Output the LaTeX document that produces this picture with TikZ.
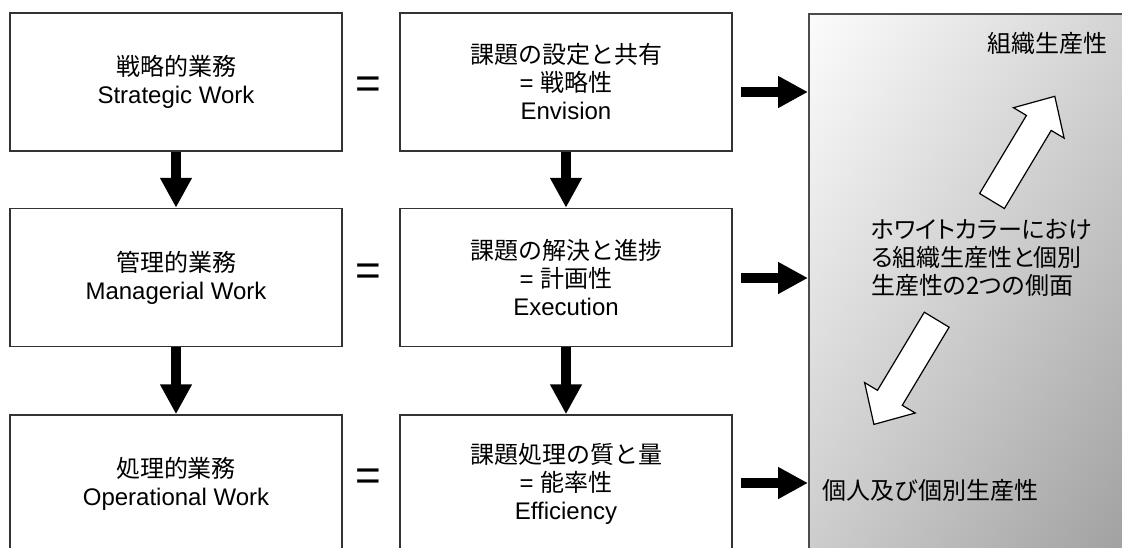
\documentclass[tikz,border=0pt]{standalone}
\usepackage{fontspec}
\setmainfont{Liberation Sans}
\newfontfamily\jp{Noto Sans CJK JP}
\newfontfamily\jpp[RawFeature=+palt]{Noto Sans CJK JP}
\usetikzlibrary{arrows.meta,shadings}
\definecolor{edge}{HTML}{333333}
\definecolor{shUL}{HTML}{FCFCFC}
\definecolor{shUR}{HTML}{D2D2D2}
\definecolor{shLL}{HTML}{CCCCCC}
\definecolor{shLR}{HTML}{9E9E9E}
\tikzset{
  box/.style={draw=edge, line width=1.5pt, fill=white, minimum width=332pt,
    minimum height=138pt, align=center, inner sep=0pt,
    font=\fontsize{24}{28}\selectfont},
  blk/.style={line width=10pt, draw=black, -{Triangle[length=30pt,width=30pt]}},
  eqsign/.style={inner sep=0pt, font=\fontsize{44}{44}\selectfont},
  ptext/.style={inner sep=0pt, font=\fontsize{24}{28}\selectfont},
  whitearrow/.style={draw=black, line width=1.2pt, fill=white, line join=miter},
}
\begin{document}
\begin{tikzpicture}[x=1pt,y=-1pt]
\useasboundingbox (0,0) rectangle (1122,547);
\clip (0,0) rectangle (1122,547);

% right panel
\node[draw=black!70, line width=1.5pt, anchor=north west, minimum width=330pt,
  minimum height=545pt, inner sep=0pt, shade, shading=bilinear interpolation,
  upper left=shUL, upper right=shUR, lower left=shLL, lower right=shLR]
  (panel) at (808,13) {};

% boxes
\node[box] (l1) at (176,82) {{\jp 戦略的業務}\\Strategic Work};
\node[box] (m1) at (566,82) {{\jp 課題の設定と共有}\\= {\jp 戦略性}\\Envision};
\node[box] (l2) at (176,277.5) {{\jp 管理的業務}\\Managerial Work};
\node[box] (m2) at (566,277.5) {{\jp 課題の解決と進捗}\\= {\jp 計画性}\\Execution};
\node[box] (l3) at (176,484) {{\jp 処理的業務}\\Operational Work};
\node[box] (m3) at (566,484) {{\jp 課題処理の質と量}\\= {\jp 能率性}\\Efficiency};

% equals signs
\node[eqsign] (e1) at (368,88) {=};
\node[eqsign] (e2) at (368,275) {=};
\node[eqsign] (e3) at (368,480) {=};

% down arrows
\draw[blk] (l1.south) -- (l2.north);
\draw[blk] (l2.south) -- (l3.north);
\draw[blk] (m1.south) -- (m2.north);
\draw[blk] (m2.south) -- (m3.north);

% right arrows
\coordinate (r1) at (741,92);
\coordinate (r2) at (741,278);
\coordinate (r3) at (741,483);
\draw[blk] (r1) -- (r1 -| panel.west);
\draw[blk] (r2) -- (r2 -| panel.west);
\draw[blk] (r3) -- (r3 -| panel.west);

% panel texts
\node[ptext, anchor=east] (t1) at (1108,43) {\jp 組織生産性};
\node[ptext, anchor=west] (t2) at (822,490) {\jp 個人及び個別生産性};
\node[ptext, anchor=west, align=left] (t3) at (871,258)
  {\jpp ホワイトカラーにおけ\\\jpp る組織生産性と個別\\\jpp 生産性の2つの側面};

% white block arrows
\draw[whitearrow] (979.6,193.5) -- (1026.4,115.4) -- (1013.5,107.7) -- (1054.8,96.3)
  -- (1064.1,138.1) -- (1051.2,130.4) -- (1004.4,208.5) -- cycle;
\draw[whitearrow] (924.3,312.2) -- (877.5,390.3) -- (864.6,382.6) -- (873.9,424.4)
  -- (915.2,413.0) -- (902.3,405.3) -- (949.1,327.2) -- cycle;
\end{tikzpicture}
\end{document}
